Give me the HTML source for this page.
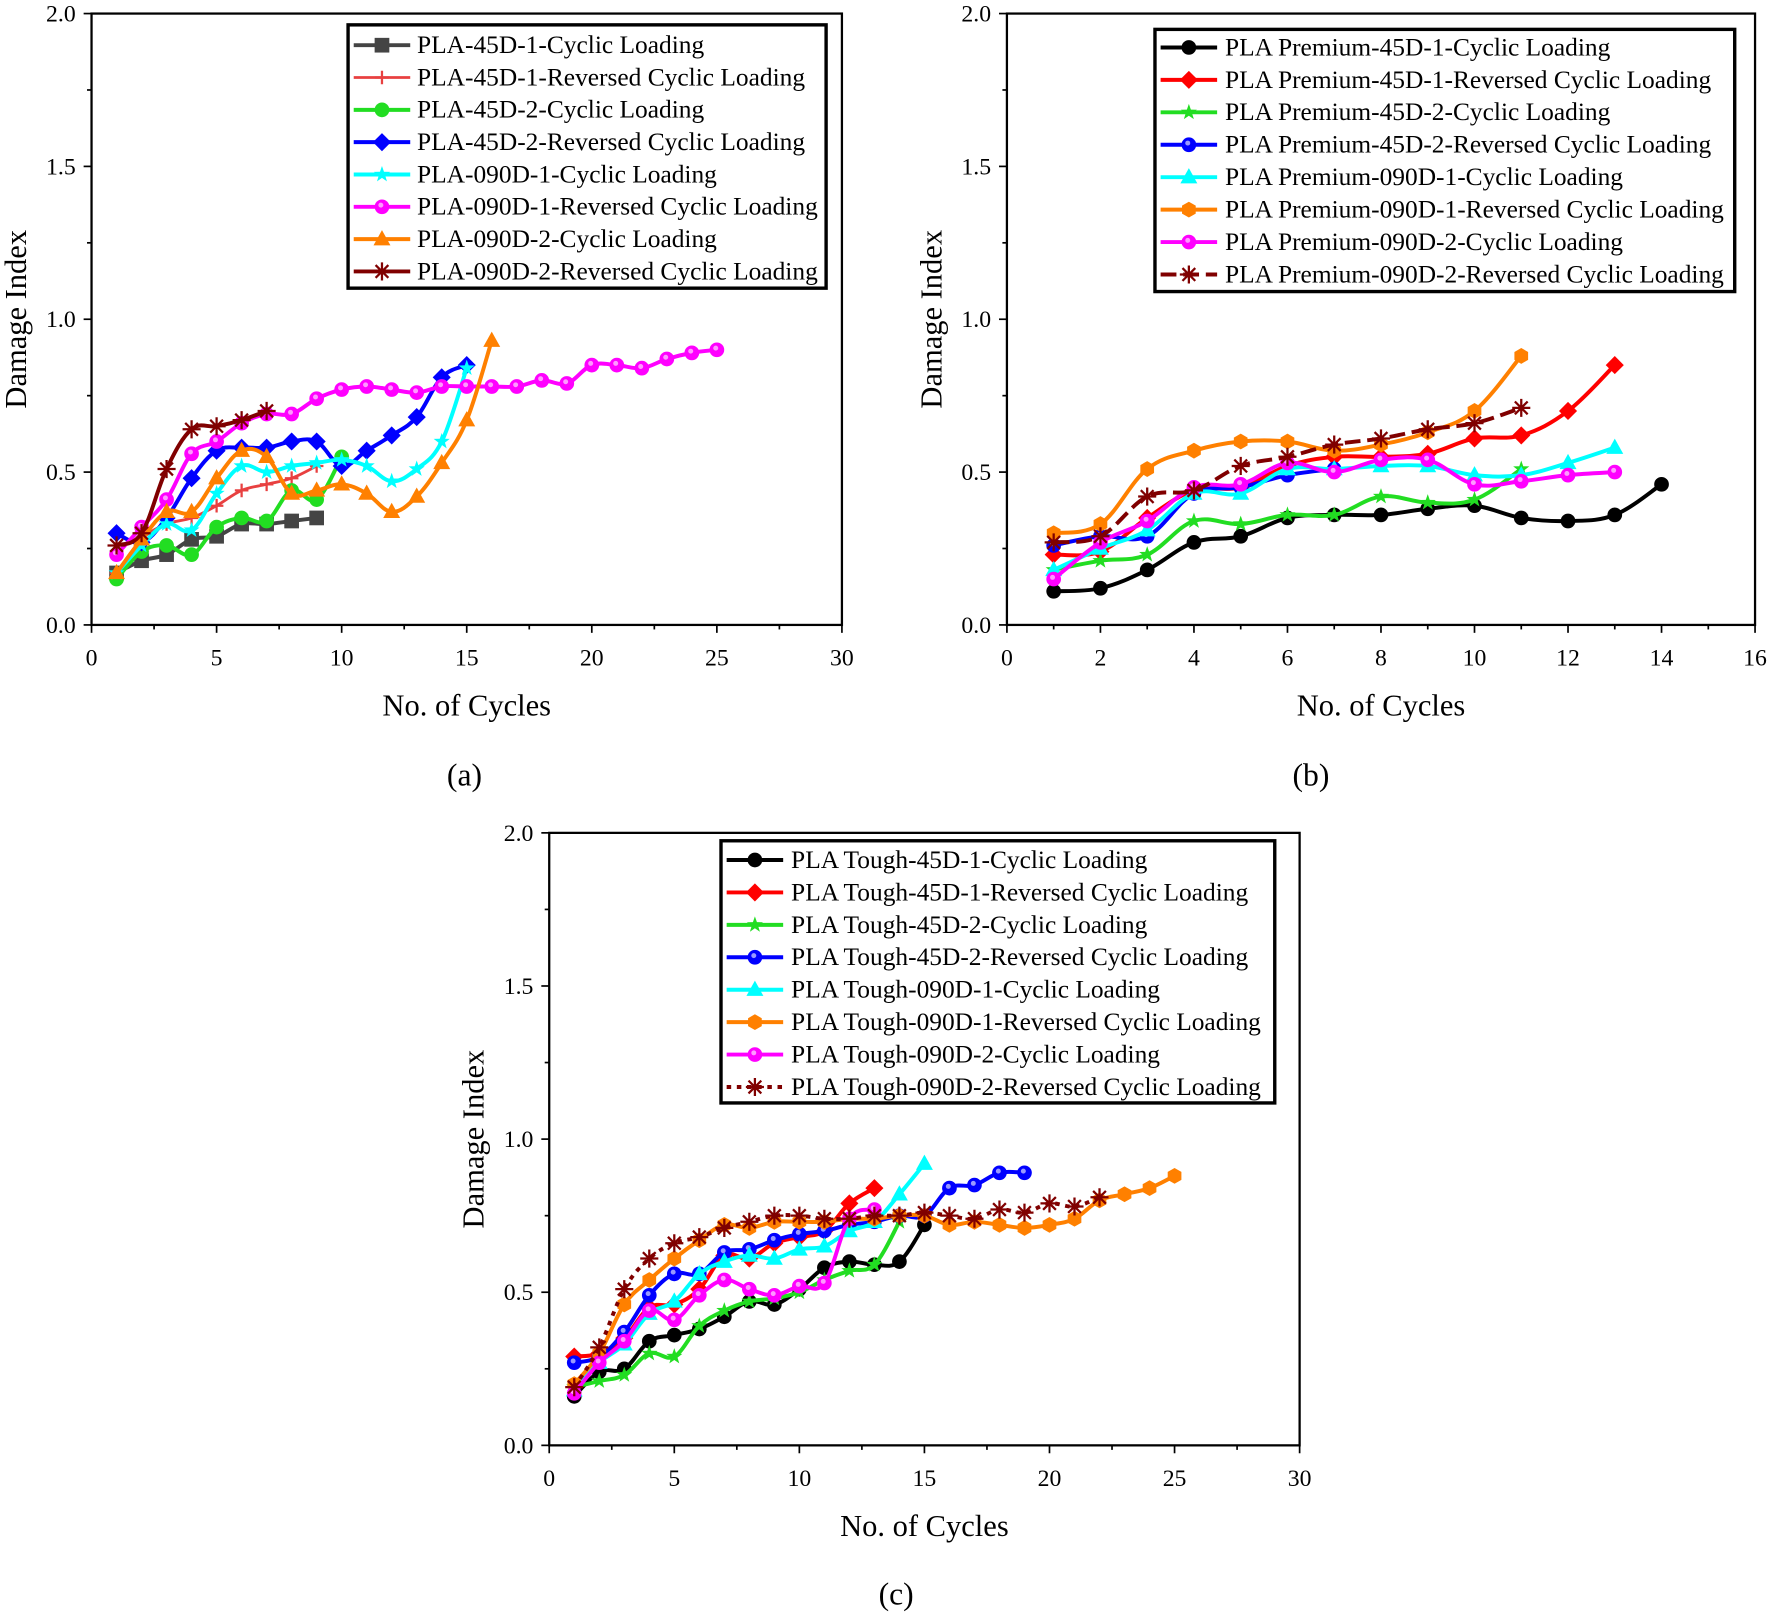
<!DOCTYPE html>
<html><head><meta charset="utf-8">
<style>
html,body{margin:0;padding:0;background:#fff;}
svg{display:block;}
text{font-family:"Liberation Serif",serif;fill:#000;}
</style></head>
<body>
<svg id="fig" width="1772" height="1616" viewBox="0 0 1568 1430" preserveAspectRatio="none" xmlns="http://www.w3.org/2000/svg"></svg>
<script>
// ---------- Panel (a) data ----------
const aNames=["PLA-45D-1-Cyclic Loading","PLA-45D-1-Reversed Cyclic Loading","PLA-45D-2-Cyclic Loading","PLA-45D-2-Reversed Cyclic Loading","PLA-090D-1-Cyclic Loading","PLA-090D-1-Reversed Cyclic Loading","PLA-090D-2-Cyclic Loading","PLA-090D-2-Reversed Cyclic Loading"];
const a1=[0.17,0.21,0.23,0.28,0.29,0.33,0.33,0.34,0.35];
const a2=[0.17,0.28,0.33,0.35,0.39,0.44,0.46,0.48,0.52];
const a3=[0.15,0.24,0.26,0.23,0.32,0.35,0.34,0.44,0.41,0.55];
const a4=[0.30,0.27,0.35,0.48,0.57,0.58,0.58,0.60,0.60,0.52,0.57,0.62,0.68,0.81,0.85];
const a5=[0.17,0.26,0.33,0.31,0.43,0.52,0.50,0.52,0.53,0.54,0.52,0.47,0.51,0.60,0.84];
const a6=[0.23,0.32,0.41,0.56,0.60,0.66,0.69,0.69,0.74,0.77,0.78,0.77,0.76,0.78,0.78,0.78,0.78,0.80,0.79,0.85,0.85,0.84,0.87,0.89,0.90];
const a7=[0.17,0.28,0.37,0.37,0.48,0.57,0.55,0.43,0.44,0.46,0.43,0.37,0.42,0.53,0.67,0.93];
const a8=[0.26,0.30,0.51,0.64,0.65,0.67,0.70];
// ---------- Panel (b) data ----------
const bNames=["PLA Premium-45D-1-Cyclic Loading","PLA Premium-45D-1-Reversed Cyclic Loading","PLA Premium-45D-2-Cyclic Loading","PLA Premium-45D-2-Reversed Cyclic Loading","PLA Premium-090D-1-Cyclic Loading","PLA Premium-090D-1-Reversed Cyclic Loading","PLA Premium-090D-2-Cyclic Loading","PLA Premium-090D-2-Reversed Cyclic Loading"];
const b1=[0.11,0.12,0.18,0.27,0.29,0.35,0.36,0.36,0.38,0.39,0.35,0.34,0.36,0.46];
const b2=[0.23,0.24,0.35,0.44,0.45,0.52,0.55,0.55,0.56,0.61,0.62,0.70,0.85];
const b3=[0.18,0.21,0.23,0.34,0.33,0.36,0.36,0.42,0.40,0.41,0.51];
const b4=[0.26,0.29,0.29,0.43,0.45,0.49,0.51];
const b5=[0.18,0.25,0.31,0.43,0.43,0.51,0.51,0.52,0.52,0.49,0.49,0.53,0.58];
const b6=[0.30,0.33,0.51,0.57,0.60,0.60,0.57,0.59,0.63,0.70,0.88];
const b7=[0.15,0.27,0.34,0.45,0.46,0.53,0.50,0.54,0.54,0.46,0.47,0.49,0.50];
const b8=[0.27,0.29,0.42,0.44,0.52,0.55,0.59,0.61,0.64,0.66,0.71];
// ---------- Panel (c) data ----------
const cNames=["PLA Tough-45D-1-Cyclic Loading","PLA Tough-45D-1-Reversed Cyclic Loading","PLA Tough-45D-2-Cyclic Loading","PLA Tough-45D-2-Reversed Cyclic Loading","PLA Tough-090D-1-Cyclic Loading","PLA Tough-090D-1-Reversed Cyclic Loading","PLA Tough-090D-2-Cyclic Loading","PLA Tough-090D-2-Reversed Cyclic Loading"];
const c1=[0.16,0.24,0.25,0.34,0.36,0.38,0.42,0.47,0.46,0.51,0.58,0.60,0.59,0.60,0.72];
const c2=[0.29,0.30,0.35,0.45,0.46,0.51,0.62,0.61,0.66,0.68,0.70,0.79,0.84];
const c3=[0.19,0.21,0.23,0.30,0.29,0.39,0.44,0.47,0.48,0.50,0.54,0.57,0.59,0.73];
const c4=[0.27,0.29,0.37,0.49,0.56,0.56,0.63,0.64,0.67,0.69,0.70,0.72,0.73,0.75,0.75,0.84,0.85,0.89,0.89];
const c5=[0.18,0.27,0.33,0.43,0.47,0.56,0.60,0.62,0.61,0.64,0.65,0.70,0.73,0.82,0.92];
const c6=[0.20,0.30,0.46,0.54,0.61,0.67,0.72,0.71,0.73,0.73,0.73,0.74,0.74,0.75,0.75,0.72,0.73,0.72,0.71,0.72,0.74,0.80,0.82,0.84,0.88];
const c7=[0.17,0.27,0.34,0.44,0.41,0.49,0.54,0.51,0.49,0.52,0.53,0.74,0.77];
const c8=[0.19,0.32,0.51,0.61,0.66,0.68,0.71,0.73,0.75,0.75,0.74,0.74,0.75,0.75,0.76,0.75,0.74,0.77,0.76,0.79,0.78,0.81];
const yTicks=[0,0.5,1.0,1.5,2.0];

const NS="http://www.w3.org/2000/svg";
const svg=document.getElementById('fig');
function mk(tag,attrs,parent){const e=document.createElementNS(NS,tag);for(const k in attrs)e.setAttribute(k,attrs[k]);(parent||svg).appendChild(e);return e;}

function marker(g,type,x,y,col){
  const r=6.5;let e;
  if(type==='square')e=mk('rect',{x:x-r,y:y-r,width:2*r,height:2*r,fill:col},g);
  else if(type==='circle')e=mk('circle',{cx:x,cy:y,r:r,fill:col},g);
  else if(type==='sphere'){e=mk('circle',{cx:x,cy:y,r:r,fill:col},g);mk('circle',{cx:x-1,cy:y-1.5,r:2.2,fill:'#fff',opacity:0.6},g);}
  else if(type==='diamond')e=mk('polygon',{points:`${x},${y-r-1.5} ${x+r+1.5},${y} ${x},${y+r+1.5} ${x-r-1.5},${y}`,fill:col},g);
  else if(type==='triangle')e=mk('polygon',{points:`${x},${y-r-1.5} ${x+r+1},${y+r-1} ${x-r-1},${y+r-1}`,fill:col},g);
  else if(type==='hex'){let p=[];for(let i=0;i<6;i++){const a=Math.PI/3*i+Math.PI/6;p.push((x+7*Math.cos(a))+','+(y+7*Math.sin(a)));}e=mk('polygon',{points:p.join(' '),fill:col},g);}
  else if(type==='star'){let p=[];for(let i=0;i<10;i++){const rr=i%2?3:7.5;const a=-Math.PI/2+i*Math.PI/5;p.push((x+rr*Math.cos(a))+','+(y+rr*Math.sin(a)));}e=mk('polygon',{points:p.join(' '),fill:col},g);}
  else if(type==='plus'){e=mk('path',{d:`M${x-6},${y}H${x+6}M${x},${y-6}V${y+6}`,stroke:col,'stroke-width':2},g);}
  else if(type==='asterisk'){let d='';for(let i=0;i<4;i++){const a=i*Math.PI/4;d+=`M${x-8*Math.cos(a)},${y-8*Math.sin(a)}L${x+8*Math.cos(a)},${y+8*Math.sin(a)}`;}e=mk('path',{d:d,stroke:col,'stroke-width':2},g);}
  
  
}
function smooth(pts){
  let d=`M${pts[0][0]},${pts[0][1]}`;
  for(let i=0;i<pts.length-1;i++){
    const p0=pts[Math.max(0,i-1)],p1=pts[i],p2=pts[i+1],p3=pts[Math.min(pts.length-1,i+2)];
    const t=0.18;
    d+=`C${p1[0]+(p2[0]-p0[0])*t},${p1[1]+(p2[1]-p0[1])*t} ${p2[0]-(p3[0]-p1[0])*t},${p2[1]-(p3[1]-p1[1])*t} ${p2[0]},${p2[1]}`;
  }
  return d;
}
function panel(cfg){
  const g=mk('g',{});
  
  
  const {x0,x1,y0,y1,xmax,xstep,xminor}=cfg;
  const sx=v=>x0+(x1-x0)*v/xmax, sy=v=>y0-(y0-y1)*v/2;
  const fr=mk('rect',{x:x0,y:y1,width:x1-x0,height:y0-y1,fill:'none',stroke:'#000','stroke-width':2},g);
  
  for(let v=0;v<=xmax+1e-9;v+=xminor){const maj=Math.abs(v/xstep-Math.round(v/xstep))<1e-6;
    mk('line',{x1:sx(v),x2:sx(v),y1:y0,y2:y0+(maj?7:4),stroke:'#000','stroke-width':1.5},g);
    if(maj){const t=mk('text',{x:sx(v),y:y0+36,'font-size':21,'text-anchor':'middle'},g);t.textContent=Math.round(v);
      }}
  for(let v=0;v<=2.0001;v+=0.25){const maj=Math.abs(v*2-Math.round(v*2))<1e-6;
    mk('line',{x1:x0,x2:x0-(maj?7:4),y1:sy(v),y2:sy(v),stroke:'#000','stroke-width':1.5},g);}
  yTicks.forEach(v=>{const t=mk('text',{x:x0-14,y:sy(v)+7,'font-size':21,'text-anchor':'end'},g);t.textContent=v.toFixed(1);
    });
  const yt=mk('text',{x:0,y:0,'font-size':27,'text-anchor':'middle',transform:`translate(${x0-58},${(y0+y1)/2}) rotate(-90)`},g);yt.textContent='Damage Index';
  
  const xt=mk('text',{x:(x0+x1)/2,y:y0+80,'font-size':27,'text-anchor':'middle'},g);xt.textContent='No. of Cycles';
  
  const pl=mk('text',{x:cfg.lab[0],y:cfg.lab[1],'font-size':28,'text-anchor':'middle'},g);pl.textContent=cfg.labText;
  
  cfg.series.forEach((s,i)=>{
    const sg=mk('g',{},g);
    
    
    const pts=s.data.map((v,k)=>[sx(k+1),sy(v)]);
    const ln=mk('path',{d:smooth(pts),fill:'none',stroke:s.col,'stroke-width':s.w||3.5,'stroke-dasharray':s.dash||'none'},sg);
    
    pts.forEach(p=>marker(sg,s.m,p[0],p[1],s.col));
  });
  const L=cfg.leg;
  const lg=mk('g',{},g);
  
  
  mk('rect',{x:L.x,y:L.y,width:L.w,height:L.h,fill:'#fff',stroke:'#000','stroke-width':3},lg);
  cfg.series.forEach((s,i)=>{
    const ry=L.r0+i*L.dy;
    const eg=mk('g',{},lg);
    
    
    mk('line',{x1:L.x+5,x2:L.x+55,y1:ry,y2:ry,stroke:s.col,'stroke-width':s.w||3.5,'stroke-dasharray':s.dash||'none'},eg);
    marker(eg,s.m,L.x+30,ry,s.col);
    const t=mk('text',{x:L.tx,y:ry+7,'font-size':22.5},eg);t.textContent=cfg.names[i];
  });
}
panel({name:'panel-a',x0:81,x1:745,y0:553,y1:12,xmax:30,xstep:5,xminor:2.5,lab:[411,695],labText:'(a)',names:aNames,
 leg:{x:308,y:22,w:423,h:233,r0:40,dy:28.6,tx:369},
 series:[{data:a1,col:'#444',m:'square'},{data:a2,col:'#e84040',m:'plus',w:2.5},{data:a3,col:'#22dd22',m:'circle'},{data:a4,col:'#0000ff',m:'diamond'},
 {data:a5,col:'#00ffff',m:'star'},{data:a6,col:'#ff00ff',m:'sphere'},{data:a7,col:'#ff8000',m:'triangle'},{data:a8,col:'#800000',m:'asterisk'}]});
panel({name:'panel-b',x0:891,x1:1553,y0:553,y1:12,xmax:16,xstep:2,xminor:1,lab:[1160,695],labText:'(b)',names:bNames,
 leg:{x:1022,y:26,w:513,h:232,r0:42,dy:28.7,tx:1084},
 series:[{data:b1,col:'#000',m:'circle'},{data:b2,col:'#ff0000',m:'diamond'},{data:b3,col:'#22dd22',m:'star'},{data:b4,col:'#0000ff',m:'sphere'},
 {data:b5,col:'#00ffff',m:'triangle'},{data:b6,col:'#ff8000',m:'hex'},{data:b7,col:'#ff00ff',m:'sphere'},{data:b8,col:'#800000',m:'asterisk',dash:'14 6'}]});
panel({name:'panel-c',x0:486,x1:1150,y0:1279,y1:737,xmax:30,xstep:5,xminor:2.5,lab:[793,1420],labText:'(c)',names:cNames,
 leg:{x:638,y:744,w:490,h:232,r0:761,dy:28.7,tx:700},
 series:[{data:c1,col:'#000',m:'circle'},{data:c2,col:'#ff0000',m:'diamond'},{data:c3,col:'#22dd22',m:'star'},{data:c4,col:'#0000ff',m:'sphere'},
 {data:c5,col:'#00ffff',m:'triangle'},{data:c6,col:'#ff8000',m:'hex'},{data:c7,col:'#ff00ff',m:'sphere'},{data:c8,col:'#800000',m:'asterisk',dash:'4 5'}]});
</script>
</body></html>
